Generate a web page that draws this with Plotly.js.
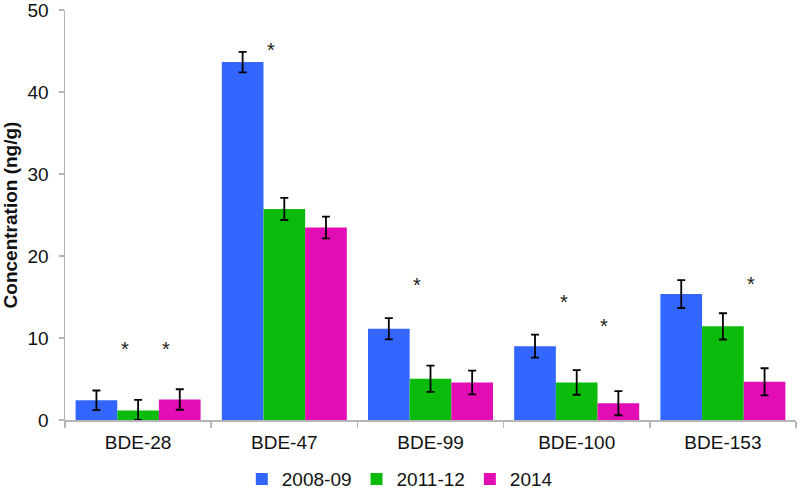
<!DOCTYPE html>
<html>
<head>
<meta charset="utf-8">
<script src="https://cdn.plot.ly/plotly-3.0.1.min.js"></script>
<style>html,body{margin:0;padding:0;background:#fff;}#chart{width:800px;height:492px;}</style>
</head>
<body>
<div id="chart"></div>
<script>
// ---- data ----
const categories = ["BDE-28", "BDE-47", "BDE-99", "BDE-100", "BDE-153"];
const seriesNames = ["2008-09", "2011-12", "2014"];

const values2008 = [2.4, 43.65, 11.13, 9.0, 15.36];
const err2008    = [1.2, 1.25, 1.3, 1.4, 1.7];

const values2011 = [1.16, 25.74, 5.03, 4.58, 11.42];
const err2011Up  = [1.3, 1.35, 1.6, 1.5, 1.6];
const err2011Dn  = [1.16, 1.35, 1.6, 1.5, 1.6];

const values2014 = [2.5, 23.47, 4.58, 2.05, 4.66];
const err2014    = [1.25, 1.33, 1.45, 1.47, 1.65];

const yTickVals = [0, 10, 20, 30, 40, 50];

// significance markers (*): category, series marked, height
const sigCategory = ["BDE-28", "BDE-28", "BDE-47", "BDE-99", "BDE-100", "BDE-100", "BDE-153"];
const sigSeries   = ["2011-12", "2014", "2011-12", "2011-12", "2011-12", "2014", "2014"];
const sigY        = [9.1, 9.1, 45.6, 16.9, 14.9, 11.9, 17.1];

// ---- styles ----
const colors = {"2008-09": "#3366FF", "2011-12": "#0BBB0B", "2014": "#E20DB5"};
const sigOffset = {"2011-12": -0.09, "2014": 0.19};
const FONT = "Liberation Sans, Arial, sans-serif";

function errObj(up, dn) {
  return {type: "data", symmetric: false, array: up, arrayminus: dn || up,
          color: "#000", thickness: 1.8, width: 4};
}

const traces = [
  {type: "bar", name: seriesNames[0], x: categories, y: values2008,
   marker: {color: colors["2008-09"]}, error_y: errObj(err2008)},
  {type: "bar", name: seriesNames[1], x: categories, y: values2011,
   marker: {color: colors["2011-12"]}, error_y: errObj(err2011Up, err2011Dn)},
  {type: "bar", name: seriesNames[2], x: categories, y: values2014,
   marker: {color: colors["2014"]}, error_y: errObj(err2014)}
];

const annotations = sigCategory.map((c, i) => ({
  x: categories.indexOf(c) + sigOffset[sigSeries[i]],
  y: sigY[i], xref: "x", yref: "y",
  text: "*", showarrow: false, xanchor: "center", yanchor: "middle",
  yshift: -4,
  font: {family: FONT, size: 20, color: "#222"}
}));

const axisColor = "#b5b5b5";
const layout = {
  width: 800, height: 492,
  margin: {l: 65, r: 4, t: 10, b: 72},
  paper_bgcolor: "#fff", plot_bgcolor: "#fff",
  font: {family: FONT, size: 19, color: "#111"},
  barmode: "group", bargap: 0.145, bargroupgap: 0,
  showlegend: true,
  legend: {orientation: "h", xref: "paper", x: 0.458, xanchor: "center",
           yref: "container", y: 0.026, yanchor: "middle",
           font: {family: FONT, size: 19, color: "#111"}, itemwidth: 30},
  xaxis: {type: "category", automargin: false, showline: true, linecolor: axisColor, linewidth: 1.5,
          ticks: "outside", tickson: "boundaries", ticklen: 6, tickcolor: axisColor, tickwidth: 1.5,
          showgrid: false, zeroline: false, ticklabelstandoff: 5},
  yaxis: {range: [0, 50], automargin: false, tickmode: "array", tickvals: yTickVals, showline: true, linecolor: axisColor, linewidth: 1.5,
          ticks: "outside", ticklen: 5, tickcolor: axisColor, tickwidth: 1.5, ticklabeloverflow: "allow",
          showgrid: false, zeroline: false, ticklabelstandoff: 6,
          title: {text: "Concentration (ng/g)", font: {family: FONT, size: 19, weight: "bold", color: "#111"}, standoff: 9}},
  annotations: annotations
};

Plotly.newPlot("chart", traces, layout, {staticPlot: true, displayModeBar: false});
</script>
</body>
</html>
